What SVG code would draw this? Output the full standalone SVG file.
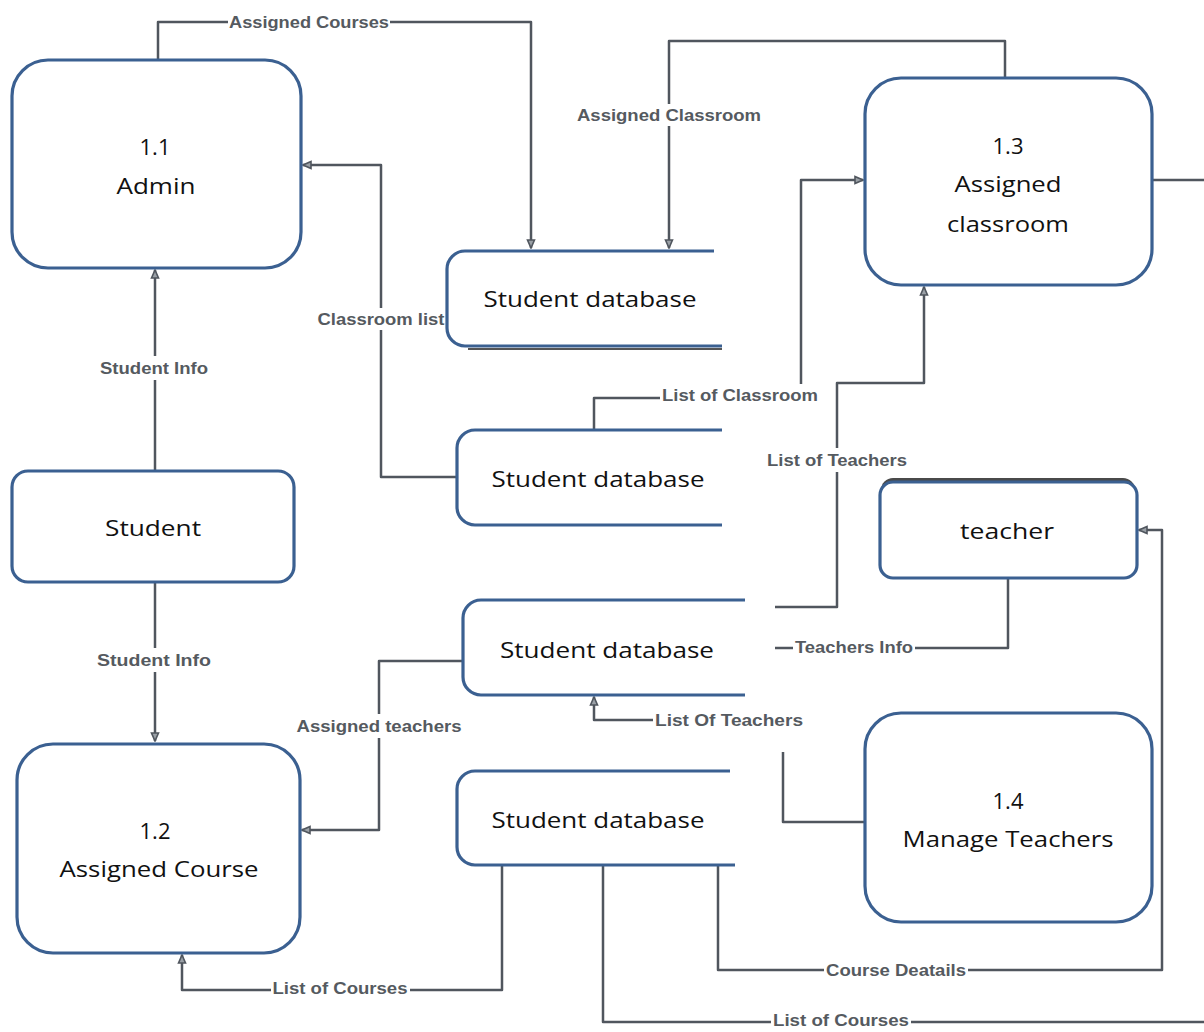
<svg xmlns="http://www.w3.org/2000/svg" width="1204" height="1032" viewBox="0 0 1204 1032">
<style>
.node{fill:#fff;stroke:#3b6091;stroke-width:3.2}
.store{fill:none;stroke:#3b6091;stroke-width:3.2}
.t{font-family:"Open Sans","Liberation Sans",sans-serif;font-size:22px;fill:#111;text-anchor:middle;dominant-baseline:central}
.c{fill:none;stroke:#50565e;stroke-width:2.5;stroke-linejoin:round}
.lb{font-family:"Liberation Sans Narrow","Liberation Sans",sans-serif;font-weight:bold;font-size:16px;fill:#555a60;text-anchor:middle;dominant-baseline:central}
.bg{fill:#fff}
</style>
<defs>
<marker id="ah" viewBox="0 0 10 10" refX="9" refY="5" markerWidth="4" markerHeight="4" orient="auto" markerUnits="strokeWidth">
<path d="M1,1.5 L9,5 L1,8.5 Z" fill="#9aa0a6" stroke="#50565e" stroke-width="1.6"/>
</marker>
</defs>
<rect width="1204" height="1032" fill="#fff"/>

<g id="connectors">
<path class="c" d="M158,60 V22 H531 V248" marker-end="url(#ah)"/>
<path class="c" d="M1005,78 V41 H669 V248" marker-end="url(#ah)"/>
<path class="c" d="M457,477 H381 V165 H303" marker-end="url(#ah)"/>
<path class="c" d="M155,470 V270" marker-end="url(#ah)"/>
<path class="c" d="M155,582 V741" marker-end="url(#ah)"/>
<path class="c" d="M594,429 V398 H801 V180 H863" marker-end="url(#ah)"/>
<path class="c" d="M775,607 H837 V383 H924 V287" marker-end="url(#ah)"/>
<path class="c" d="M1008,578 V648 H775"/>
<path class="c" d="M865,822 H783 V720 H594 V697" marker-end="url(#ah)"/>
<path class="c" d="M463,661 H379 V830 H302" marker-end="url(#ah)"/>
<path class="c" d="M502,865 V990 H182 V955" marker-end="url(#ah)"/>
<path class="c" d="M718,865 V970 H1162 V530 H1139" marker-end="url(#ah)"/>
<path class="c" d="M603,865 V1022 H1204"/>
<path class="c" d="M1152,180 H1204"/>

<rect class="bg" x="228" y="12" width="162" height="20"/>
<text class="lb" x="309" y="22" textLength="160" lengthAdjust="spacingAndGlyphs">Assigned Courses</text>
<rect class="bg" x="575" y="104" width="188" height="22"/>
<text class="lb" x="669" y="115" textLength="184" lengthAdjust="spacingAndGlyphs">Assigned Classroom</text>
<rect class="bg" x="316" y="308" width="130" height="22"/>
<text class="lb" x="381" y="319" textLength="127" lengthAdjust="spacingAndGlyphs">Classroom list</text>
<rect class="bg" x="98" y="356" width="112" height="24"/>
<text class="lb" x="154" y="368" textLength="108" lengthAdjust="spacingAndGlyphs">Student Info</text>
<rect class="bg" x="95" y="648" width="118" height="24"/>
<text class="lb" x="154" y="660" textLength="114" lengthAdjust="spacingAndGlyphs">Student  Info</text>
<rect class="bg" x="660" y="384" width="160" height="22"/>
<text class="lb" x="740" y="395" textLength="156" lengthAdjust="spacingAndGlyphs">List of Classroom</text>
<rect class="bg" x="765" y="448" width="144" height="24"/>
<text class="lb" x="837" y="460" textLength="140" lengthAdjust="spacingAndGlyphs">List of Teachers</text>
<rect class="bg" x="793" y="637" width="122" height="22"/>
<text class="lb" x="854" y="647" textLength="118" lengthAdjust="spacingAndGlyphs">Teachers Info</text>
<rect class="bg" x="653" y="706" width="152" height="46"/>
<text class="lb" x="729" y="720" textLength="148" lengthAdjust="spacingAndGlyphs">List Of  Teachers</text>
<rect class="bg" x="295" y="714" width="169" height="24"/>
<text class="lb" x="379" y="726" textLength="165" lengthAdjust="spacingAndGlyphs">Assigned teachers</text>
<rect class="bg" x="271" y="978" width="139" height="22"/>
<text class="lb" x="340" y="988" textLength="135" lengthAdjust="spacingAndGlyphs">List of Courses</text>
<rect class="bg" x="824" y="960" width="144" height="22"/>
<text class="lb" x="896" y="970" textLength="140" lengthAdjust="spacingAndGlyphs">Course Deatails</text>
<rect class="bg" x="771" y="1010" width="140" height="22"/>
<text class="lb" x="841" y="1020" textLength="136" lengthAdjust="spacingAndGlyphs">List of Courses</text>
</g>

<g id="admin">
<rect class="node" x="12" y="60" width="289" height="208" rx="36"/>
<text class="t" x="155" y="146">1.1</text>
<text class="t" x="156" y="185" textLength="79" lengthAdjust="spacingAndGlyphs">Admin</text>
</g>

<g id="student">
<rect class="node" x="12" y="471" width="282" height="111" rx="16"/>
<text class="t" x="153" y="527" textLength="96" lengthAdjust="spacingAndGlyphs">Student</text>
</g>

<g id="assigned-course">
<rect class="node" x="17" y="744" width="283" height="209" rx="36"/>
<text class="t" x="155" y="830">1.2</text>
<text class="t" x="159" y="868" textLength="199" lengthAdjust="spacingAndGlyphs">Assigned Course</text>
</g>

<g id="assigned-classroom">
<rect class="node" x="865" y="78" width="287" height="207" rx="36"/>
<text class="t" x="1008" y="145">1.3</text>
<text class="t" x="1008" y="183" textLength="107" lengthAdjust="spacingAndGlyphs">Assigned</text>
<text class="t" x="1008" y="223" textLength="122" lengthAdjust="spacingAndGlyphs">classroom</text>
</g>

<g id="teacher">
<rect x="881" y="478" width="254" height="98" rx="12" fill="#4a4a4a"/>
<rect class="node" x="880" y="482" width="257" height="96" rx="13"/>
<text class="t" x="1007" y="530" textLength="94" lengthAdjust="spacingAndGlyphs">teacher</text>
</g>

<g id="manage-teachers">
<rect class="node" x="865" y="713" width="287" height="209" rx="36"/>
<text class="t" x="1008" y="800">1.4</text>
<text class="t" x="1008" y="838" textLength="211" lengthAdjust="spacingAndGlyphs">Manage Teachers</text>
</g>

<g id="store1">
<path d="M468,349 H722" fill="none" stroke="#555" stroke-width="2"/>
<path class="store" d="M714,251 H465 A18,18 0 0 0 447,269 V328 A18,18 0 0 0 465,346 H722"/>
<text class="t" x="590" y="298" textLength="213" lengthAdjust="spacingAndGlyphs">Student database</text>
</g>

<g id="store2">
<path class="store" d="M722,430 H475 A18,18 0 0 0 457,448 V507 A18,18 0 0 0 475,525 H722"/>
<text class="t" x="598" y="478" textLength="213" lengthAdjust="spacingAndGlyphs">Student database</text>
</g>

<g id="store3">
<path class="store" d="M745,600 H481 A18,18 0 0 0 463,618 V677 A18,18 0 0 0 481,695 H745"/>
<text class="t" x="607" y="649" textLength="214" lengthAdjust="spacingAndGlyphs">Student database</text>
</g>

<g id="store4">
<path class="store" d="M730,771 H475 A18,18 0 0 0 457,789 V847 A18,18 0 0 0 475,865 H735"/>
<text class="t" x="598" y="819" textLength="213" lengthAdjust="spacingAndGlyphs">Student database</text>
</g>
</svg>
